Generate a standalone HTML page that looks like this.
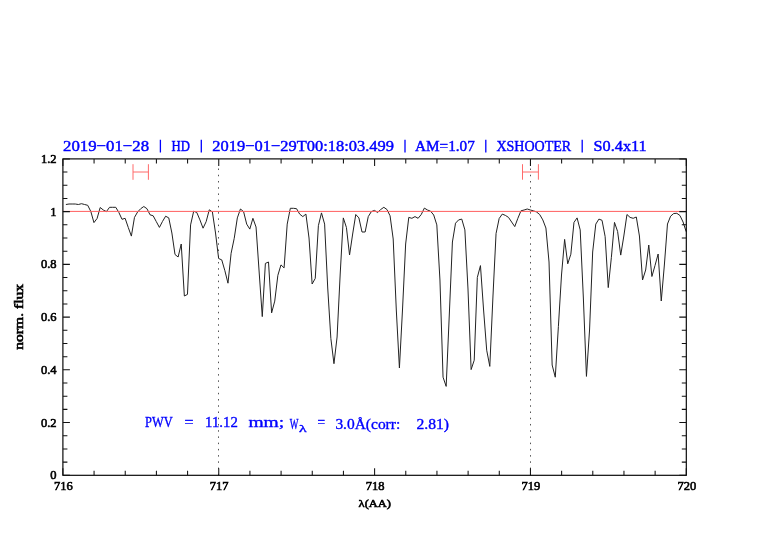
<!DOCTYPE html>
<html><head><meta charset="utf-8"><style>
html,body{margin:0;padding:0;background:#fff;}
svg{display:block;will-change:transform;}
.lab{font-family:"Liberation Serif",serif;font-size:12.5px;fill:#000;stroke:#000;stroke-width:0.6px;}
.ttl{font-family:"Liberation Serif",serif;font-size:15.6px;fill:#0000ff;stroke:#0000ff;stroke-width:0.45px;}
.pwv{font-family:"Liberation Serif",serif;font-size:14.5px;fill:#0000ff;stroke:#0000ff;stroke-width:0.35px;}
</style></head><body>
<svg width="782" height="542" viewBox="0 0 782 542">
<rect width="782" height="542" fill="#fff"/>
<g stroke="#555" stroke-width="1" stroke-dasharray="1.5 4.73" fill="none">
<path d="M218.5,475.3 V165.9"/>
<path d="M530.5,475.3 V165.9"/>
</g>
<g stroke="#ff6a6a" stroke-width="1" fill="none">
<path d="M133,164.2 V179.8 M148.4,164.2 V179.8 M133,172.0 H148.4"/>
<path d="M522.5,164.2 V179.7 M538.4,164.2 V179.7 M522.5,172.0 H538.4"/>
</g>
<path d="M65.90,204.5 L69.02,204.0 L72.13,204.0 L75.25,204.0 L78.37,204.5 L81.49,203.7 L84.60,204.5 L87.72,205.3 L90.84,211.5 L93.95,222.6 L97.07,218.5 L100.19,207.5 L103.30,210.0 L106.42,211.6 L109.54,207.3 L112.66,207.3 L115.77,207.3 L118.89,212.5 L122.01,219.3 L125.12,218.3 L128.24,227.4 L131.36,236.1 L134.47,217.4 L137.59,212.0 L140.71,208.7 L143.82,206.5 L146.94,208.7 L150.06,214.8 L153.18,215.8 L156.29,221.6 L159.41,227.4 L162.53,221.4 L165.64,216.2 L168.76,217.9 L171.88,233.0 L175.00,254.5 L178.11,257.0 L181.23,244.0 L184.35,296.0 L187.46,294.4 L190.58,224.9 L193.70,211.2 L196.81,212.5 L199.93,219.9 L203.05,228.2 L206.16,221.6 L209.28,209.8 L212.40,212.0 L215.52,233.0 L218.63,258.5 L221.75,259.9 L224.87,270.7 L227.98,283.2 L231.10,253.3 L234.22,238.3 L237.34,217.9 L240.45,209.0 L243.57,211.6 L246.69,224.1 L249.80,229.1 L252.92,218.3 L256.04,227.0 L259.15,272.0 L262.27,316.6 L265.39,263.4 L268.50,262.0 L271.62,312.9 L274.74,301.1 L277.86,275.3 L280.97,264.9 L284.09,267.9 L287.21,224.1 L290.32,208.3 L293.44,208.3 L296.56,208.7 L299.68,214.1 L302.79,216.6 L305.91,214.1 L309.03,238.0 L312.14,284.0 L315.26,278.4 L318.38,225.7 L321.49,212.9 L324.61,224.1 L327.73,288.0 L330.85,338.4 L333.96,363.7 L337.08,337.0 L340.20,274.0 L343.31,217.9 L346.43,227.5 L349.55,255.0 L352.66,234.0 L355.78,214.5 L358.90,217.9 L362.01,232.0 L365.13,232.0 L368.25,216.6 L371.37,211.6 L374.48,210.4 L377.60,212.5 L380.72,209.5 L383.83,207.3 L386.95,209.5 L390.07,215.8 L393.19,239.0 L396.30,310.0 L399.42,368.0 L402.54,309.0 L405.65,244.0 L408.77,217.4 L411.89,218.3 L415.00,216.6 L418.12,218.3 L421.24,214.5 L424.36,208.1 L427.47,210.0 L430.59,211.2 L433.71,215.0 L436.82,224.9 L439.94,280.0 L443.06,377.2 L446.17,386.4 L449.29,315.0 L452.41,242.0 L455.52,223.2 L458.64,219.9 L461.76,219.1 L464.88,229.9 L467.99,289.0 L471.11,369.6 L474.23,360.2 L477.34,277.4 L480.46,265.6 L483.58,310.0 L486.70,350.2 L489.81,366.4 L492.93,297.0 L496.05,233.5 L499.16,218.5 L502.28,214.1 L505.40,215.4 L508.51,217.4 L511.63,222.0 L514.75,226.6 L517.87,218.3 L520.98,210.8 L524.10,210.0 L527.22,209.0 L530.33,210.0 L533.45,210.8 L536.57,212.0 L539.68,214.5 L542.80,219.9 L545.92,228.0 L549.03,262.0 L552.15,365.0 L555.27,377.2 L558.39,326.6 L561.50,275.0 L564.62,239.4 L567.74,263.8 L570.85,254.2 L573.97,222.4 L577.09,217.9 L580.20,229.9 L583.32,297.0 L586.44,376.4 L589.56,330.0 L592.67,252.0 L595.79,224.1 L598.91,219.1 L602.02,220.3 L605.14,236.5 L608.26,287.6 L611.38,257.3 L614.49,222.4 L617.61,231.5 L620.73,255.1 L623.84,236.0 L626.96,214.5 L630.08,217.4 L633.19,218.3 L636.31,217.0 L639.43,236.0 L642.54,280.0 L645.66,270.0 L648.78,245.0 L651.90,276.5 L655.01,265.5 L658.13,254.0 L661.25,301.0 L664.36,265.0 L667.48,224.0 L670.60,216.2 L673.72,213.5 L676.83,213.3 L679.95,215.5 L683.07,222.0 L686.18,231.7" stroke="#222" stroke-width="1" fill="none" stroke-linejoin="round"/>
<path d="M62.9,211.4 H686.3" stroke="#ff5e5e" stroke-width="1" fill="none"/>
<rect x="62.9" y="158.9" width="623.40" height="316.40" fill="none" stroke="#000" stroke-width="1.15"/>
<path d="M62.90,475.3 V468.30 M62.90,158.9 V165.90 M94.07,475.3 V470.80 M94.07,158.9 V163.40 M125.24,475.3 V470.80 M125.24,158.9 V163.40 M156.41,475.3 V470.80 M156.41,158.9 V163.40 M187.58,475.3 V470.80 M187.58,158.9 V163.40 M218.75,475.3 V468.30 M218.75,158.9 V165.90 M249.92,475.3 V470.80 M249.92,158.9 V163.40 M281.09,475.3 V470.80 M281.09,158.9 V163.40 M312.26,475.3 V470.80 M312.26,158.9 V163.40 M343.43,475.3 V470.80 M343.43,158.9 V163.40 M374.60,475.3 V468.30 M374.60,158.9 V165.90 M405.77,475.3 V470.80 M405.77,158.9 V163.40 M436.94,475.3 V470.80 M436.94,158.9 V163.40 M468.11,475.3 V470.80 M468.11,158.9 V163.40 M499.28,475.3 V470.80 M499.28,158.9 V163.40 M530.45,475.3 V468.30 M530.45,158.9 V165.90 M561.62,475.3 V470.80 M561.62,158.9 V163.40 M592.79,475.3 V470.80 M592.79,158.9 V163.40 M623.96,475.3 V470.80 M623.96,158.9 V163.40 M655.13,475.3 V470.80 M655.13,158.9 V163.40 M686.30,475.3 V468.30 M686.30,158.9 V165.90 M62.9,475.30 H69.90 M686.3,475.30 H679.30 M62.9,462.12 H67.40 M686.3,462.12 H681.80 M62.9,448.93 H67.40 M686.3,448.93 H681.80 M62.9,435.75 H67.40 M686.3,435.75 H681.80 M62.9,422.57 H69.90 M686.3,422.57 H679.30 M62.9,409.38 H67.40 M686.3,409.38 H681.80 M62.9,396.20 H67.40 M686.3,396.20 H681.80 M62.9,383.02 H67.40 M686.3,383.02 H681.80 M62.9,369.83 H69.90 M686.3,369.83 H679.30 M62.9,356.65 H67.40 M686.3,356.65 H681.80 M62.9,343.47 H67.40 M686.3,343.47 H681.80 M62.9,330.28 H67.40 M686.3,330.28 H681.80 M62.9,317.10 H69.90 M686.3,317.10 H679.30 M62.9,303.92 H67.40 M686.3,303.92 H681.80 M62.9,290.73 H67.40 M686.3,290.73 H681.80 M62.9,277.55 H67.40 M686.3,277.55 H681.80 M62.9,264.37 H69.90 M686.3,264.37 H679.30 M62.9,251.18 H67.40 M686.3,251.18 H681.80 M62.9,238.00 H67.40 M686.3,238.00 H681.80 M62.9,224.82 H67.40 M686.3,224.82 H681.80 M62.9,211.63 H69.90 M686.3,211.63 H679.30 M62.9,198.45 H67.40 M686.3,198.45 H681.80 M62.9,185.27 H67.40 M686.3,185.27 H681.80 M62.9,172.08 H67.40 M686.3,172.08 H681.80 M62.9,158.90 H69.90 M686.3,158.90 H679.30" stroke="#111" stroke-width="1.05" fill="none"/>
<g class="lab"><text x="56.5" y="479.3" text-anchor="end">0</text><text x="56.5" y="426.6" text-anchor="end">0.2</text><text x="56.5" y="373.8" text-anchor="end">0.4</text><text x="56.5" y="321.1" text-anchor="end">0.6</text><text x="56.5" y="268.4" text-anchor="end">0.8</text><text x="56.5" y="215.6" text-anchor="end">1</text><text x="56.5" y="162.9" text-anchor="end">1.2</text><text x="63.4" y="490.3" text-anchor="middle">716</text><text x="219.2" y="490.3" text-anchor="middle">717</text><text x="375.1" y="490.3" text-anchor="middle">718</text><text x="530.9" y="490.3" text-anchor="middle">719</text><text x="686.8" y="490.3" text-anchor="middle">720</text>
<text x="358.6" y="507" font-size="11.2" textLength="32.4" lengthAdjust="spacingAndGlyphs">λ(AA)</text>
<text transform="translate(22.5,349.8) rotate(-90)" x="0" y="0" textLength="66" lengthAdjust="spacingAndGlyphs">norm. flux</text>
</g>
<path d="M160.4,139.8 V152.5 M201.3,139.8 V152.5 M405,139.8 V152.5 M485.8,139.8 V152.5 M582.2,139.8 V152.5" stroke="#0000ff" stroke-width="1.3" fill="none"/>
<g class="ttl">
<text x="63" y="150.6" textLength="86.1" lengthAdjust="spacingAndGlyphs">2019−01−28</text>
<text x="171.6" y="150.6" textLength="18.4" lengthAdjust="spacingAndGlyphs">HD</text>
<text x="212.3" y="150.6" textLength="181.7" lengthAdjust="spacingAndGlyphs">2019−01−29T00:18:03.499</text>
<text x="415" y="150.6" textLength="59.8" lengthAdjust="spacingAndGlyphs">AM=1.07</text>
<text x="496.4" y="150.6" textLength="74.8" lengthAdjust="spacingAndGlyphs">XSHOOTER</text>
<text x="593.5" y="150.6" textLength="53.2" lengthAdjust="spacingAndGlyphs">S0.4x11</text>
</g>
<g class="pwv">
<text x="145.1" y="427.4" textLength="27.6" lengthAdjust="spacingAndGlyphs">PWV</text>
<text x="184.6" y="427.4" textLength="9" lengthAdjust="spacingAndGlyphs">=</text>
<text x="205.1" y="427.4" textLength="32.7" lengthAdjust="spacingAndGlyphs">11.12</text>
<text x="248.4" y="427.4" textLength="35.8" lengthAdjust="spacingAndGlyphs">mm;</text>
<text x="289.8" y="428.7" textLength="8.7" lengthAdjust="spacingAndGlyphs">W</text>
<text x="299.1" y="431.9" font-size="10" textLength="7.6" lengthAdjust="spacingAndGlyphs">λ</text>
<text x="317.6" y="427.4" textLength="7.6" lengthAdjust="spacingAndGlyphs">=</text>
<text x="335.4" y="428.7" textLength="64.8" lengthAdjust="spacingAndGlyphs">3.0Å(corr:</text>
<text x="416.5" y="428.7" textLength="32.6" lengthAdjust="spacingAndGlyphs">2.81)</text>
</g>
</svg>
</body></html>
